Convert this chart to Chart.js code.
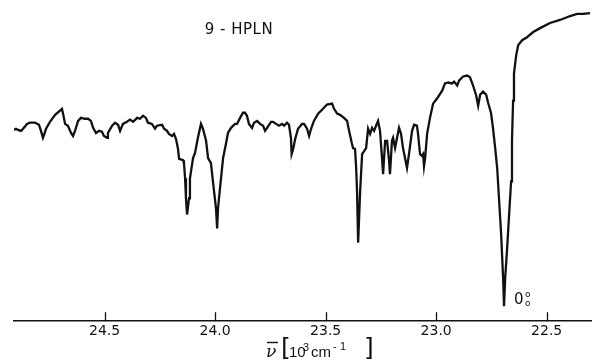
<!DOCTYPE html>
<html>
<head>
<meta charset="utf-8">
<script src="https://cdn.jsdelivr.net/npm/chart.js@4.4.1/dist/chart.umd.min.js"></script>
<style>
  html, body { margin: 0; padding: 0; background: #fff; }
  #spectrum { display: block; }
</style>
</head>
<body>
<canvas id="spectrum" width="592" height="363"></canvas>
<script>
// wavenumber in 10^3 cm-1
const wavenumber = [
  24.910, 24.901, 24.892, 24.878, 24.869, 24.851, 24.838, 24.815, 24.797, 24.788,
  24.779, 24.774, 24.765, 24.747, 24.724, 24.693, 24.688, 24.679, 24.666, 24.652,
  24.643, 24.634, 24.620, 24.607, 24.589, 24.575, 24.562, 24.552, 24.539, 24.525,
  24.512, 24.503, 24.489, 24.485, 24.466, 24.453, 24.439, 24.430, 24.417, 24.399,
  24.385, 24.371, 24.353, 24.340, 24.326, 24.313, 24.304, 24.286, 24.272, 24.263,
  24.240, 24.231, 24.218, 24.209, 24.195, 24.186, 24.177, 24.168, 24.163, 24.145,
  24.141, 24.136, 24.132, 24.127, 24.118, 24.114, 24.100, 24.091, 24.078, 24.064,
  24.055, 24.041, 24.032, 24.019, 24.010, 23.996, 23.991, 23.987, 23.978, 23.964,
  23.951, 23.942, 23.928, 23.910, 23.901, 23.887, 23.874, 23.865, 23.856, 23.847,
  23.833, 23.824, 23.810, 23.797, 23.783, 23.774, 23.765, 23.747, 23.738, 23.724,
  23.711, 23.697, 23.688, 23.675, 23.666, 23.657, 23.654, 23.647, 23.638, 23.625,
  23.607, 23.598, 23.584, 23.575, 23.566, 23.553, 23.534, 23.512, 23.494, 23.471,
  23.462, 23.448, 23.435, 23.417, 23.403, 23.394, 23.381, 23.376, 23.367, 23.362,
  23.358, 23.353, 23.344, 23.335, 23.326, 23.317, 23.308, 23.299, 23.290, 23.281,
  23.272, 23.263, 23.254, 23.245, 23.240, 23.231, 23.222, 23.213, 23.209, 23.200,
  23.195, 23.186, 23.177, 23.168, 23.159, 23.150, 23.141, 23.132, 23.123, 23.109,
  23.100, 23.087, 23.082, 23.073, 23.064, 23.059, 23.055, 23.050, 23.041, 23.028,
  23.014, 22.996, 22.973, 22.960, 22.946, 22.928, 22.919, 22.905, 22.896, 22.878,
  22.860, 22.847, 22.833, 22.819, 22.810, 22.801, 22.788, 22.774, 22.765, 22.752,
  22.743, 22.733, 22.724, 22.715, 22.706, 22.697, 22.693, 22.688, 22.679, 22.670,
  22.661, 22.657, 22.652, 22.648, 22.638, 22.629, 22.611, 22.589, 22.561, 22.530,
  22.485, 22.440, 22.394, 22.362, 22.335, 22.304
]
// relative signal (arbitrary units)
const signal = [
  63.3, 63.7, 63.3, 63.0, 63.7, 65.3, 65.7, 65.7, 65.0, 63.0,
  60.7, 61.7, 63.7, 66.0, 68.3, 70.3, 68.7, 65.3, 64.7, 62.3,
  61.3, 63.0, 66.3, 67.3, 67.0, 67.0, 66.3, 64.0, 62.3, 63.0,
  62.7, 61.3, 60.7, 62.3, 64.7, 65.7, 65.0, 63.0, 65.3, 66.0,
  66.7, 66.0, 67.3, 67.0, 68.0, 67.3, 65.7, 65.3, 63.7, 64.7,
  65.0, 63.7, 63.0, 62.0, 61.3, 62.0, 60.3, 57.0, 53.7, 53.3,
  52.3, 47.3, 40.7, 35.3, 40.7, 47.3, 54.0, 55.7, 60.7, 65.3,
  63.7, 59.7, 54.0, 52.3, 46.3, 37.3, 30.7, 37.3, 44.0, 54.0,
  58.7, 62.3, 64.0, 65.3, 65.3, 67.3, 69.0, 69.0, 68.0, 65.3,
  64.0, 65.7, 66.3, 65.3, 64.7, 63.0, 64.0, 66.0, 66.0, 65.3,
  64.7, 65.3, 64.7, 65.7, 65.0, 60.7, 55.3, 57.0, 60.3, 63.7,
  65.3, 65.3, 63.7, 61.3, 63.7, 66.3, 68.7, 70.3, 71.7, 72.0,
  70.3, 68.7, 68.3, 67.3, 66.3, 63.0, 58.7, 57.3, 57.0, 50.7,
  43.0, 26.0, 43.0, 55.3, 56.3, 57.3, 63.7, 62.0, 64.0, 63.0,
  64.7, 66.3, 63.0, 54.0, 48.7, 59.7, 59.7, 53.0, 48.7, 59.7,
  60.7, 57.3, 60.7, 64.0, 62.0, 57.3, 54.0, 50.7, 55.3, 63.0,
  65.0, 64.7, 62.0, 55.3, 54.7, 55.3, 51.3, 54.0, 62.0, 67.3,
  72.0, 73.7, 76.3, 78.7, 79.0, 78.7, 79.3, 78.0, 79.7, 81.0,
  81.3, 80.7, 78.0, 74.7, 71.3, 75.0, 76.0, 75.0, 72.3, 69.0,
  64.0, 57.3, 50.7, 39.7, 28.7, 14.0, 5.0, 14.0, 24.0, 35.3,
  46.3, 59.7, 73.0, 82.0, 88.0, 91.3, 93.0, 94.0, 95.7, 97.0,
  98.7, 99.7, 101.0, 101.7, 101.7, 102.0
]
const tickValues = [24.5, 24.0, 23.5, 23.0, 22.5]
const originBand = 22.693   // the 0-0 band

const ink = '#111'

// tick marks pointing up into the plot, plus the lettering
const lettering = {
    id: 'lettering',
    afterDraw(chart) {
        const ctx = chart.ctx
        const xs = chart.scales.x
        const ys = chart.scales.y
        const bottom = chart.chartArea.bottom
        ctx.save()
        ctx.strokeStyle = ink
        ctx.lineWidth = 1.3
        for (const t of tickValues) {
            const px = Math.round(xs.getPixelForValue(t)) + 0.5
            ctx.beginPath()
            ctx.moveTo(px, bottom)
            ctx.lineTo(px, bottom - 9)
            ctx.stroke()
        }

        ctx.fillStyle = ink
        ctx.textBaseline = 'middle'
        ctx.textAlign = 'center'
        ctx.font = '15px "DejaVu Sans"'
        ctx.letterSpacing = '0.5px'
        ctx.fillText('9 - HPLN', 239, 30)
        ctx.letterSpacing = '0px'

        // 0 0 0 label next to the origin band
        const bx = xs.getPixelForValue(originBand) + 10
        const by = ys.getPixelForValue(signal[wavenumber.indexOf(originBand)]) - 6
        ctx.textAlign = 'left'
        ctx.font = '15px "DejaVu Sans"'
        ctx.fillText('0', bx, by)
        ctx.font = '9px "DejaVu Sans"'
        ctx.fillText('o', bx + 11, by - 5)
        ctx.fillText('o', bx + 11, by + 4)

        // axis title: nu-bar [10^3 cm^-1]
        ctx.textBaseline = 'alphabetic'
        ctx.font = 'italic 17px "DejaVu Serif"'
        ctx.fillText('ν', 266, 357)
        ctx.lineWidth = 1.4
        ctx.beginPath()
        ctx.moveTo(267, 342.5)
        ctx.lineTo(278, 342.5)
        ctx.stroke()
        ctx.font = '25px "DejaVu Sans"'
        ctx.textBaseline = 'middle'
        ctx.fillText('[', 281, 349)
        ctx.fillText(']', 364, 349)
        ctx.textBaseline = 'alphabetic'
        ctx.font = '15px "Liberation Sans Narrow", "Liberation Sans"'
        ctx.fillText('10', 289, 357)
        ctx.font = '11px "Liberation Sans"'
        ctx.fillText('3', 303, 351)
        ctx.font = '15px "Liberation Sans"'
        ctx.fillText('cm', 311, 357)
        ctx.font = '11px "Liberation Sans"'
        ctx.fillText('-', 333, 350)
        ctx.fillText('1', 340, 350)
        ctx.restore()
    }
}

document.addEventListener('DOMContentLoaded', function () {
    const points = wavenumber.map((w, i) => { return { x: w, y: signal[i] } })
    const config = {
        type: 'line',
        data: {
            datasets: [{
                data: points,
                borderColor: ink,
                borderWidth: 2.3,
                pointRadius: 0,
                tension: 0,
                fill: false
            }]
        },
        options: {
            responsive: false,
            animation: false,
            events: [],
            layout: {
                padding: { left: 14, right: 0, top: 10, bottom: 21 }
            },
            plugins: {
                legend: { display: false },
                tooltip: { enabled: false }
            },
            scales: {
                x: {
                    type: 'linear',
                    reverse: true,
                    min: 22.295,
                    max: 24.91,
                    afterBuildTicks: (scale) => {
                        scale.ticks = tickValues.map((v) => { return { value: v } })
                    },
                    grid: { drawOnChartArea: false, drawTicks: false },
                    border: { display: true, color: ink, width: 1.5 },
                    ticks: {
                        color: ink,
                        padding: 2,
                        maxRotation: 0,
                        autoSkip: false,
                        font: { family: 'DejaVu Sans', size: 14 },
                        callback: (v) => Number(v).toFixed(1)
                    }
                },
                y: {
                    display: false,
                    min: 0,
                    max: 103
                }
            }
        },
        plugins: [lettering]
    }
    new Chart(document.getElementById('spectrum'), config)
});
</script>
</body>
</html>
